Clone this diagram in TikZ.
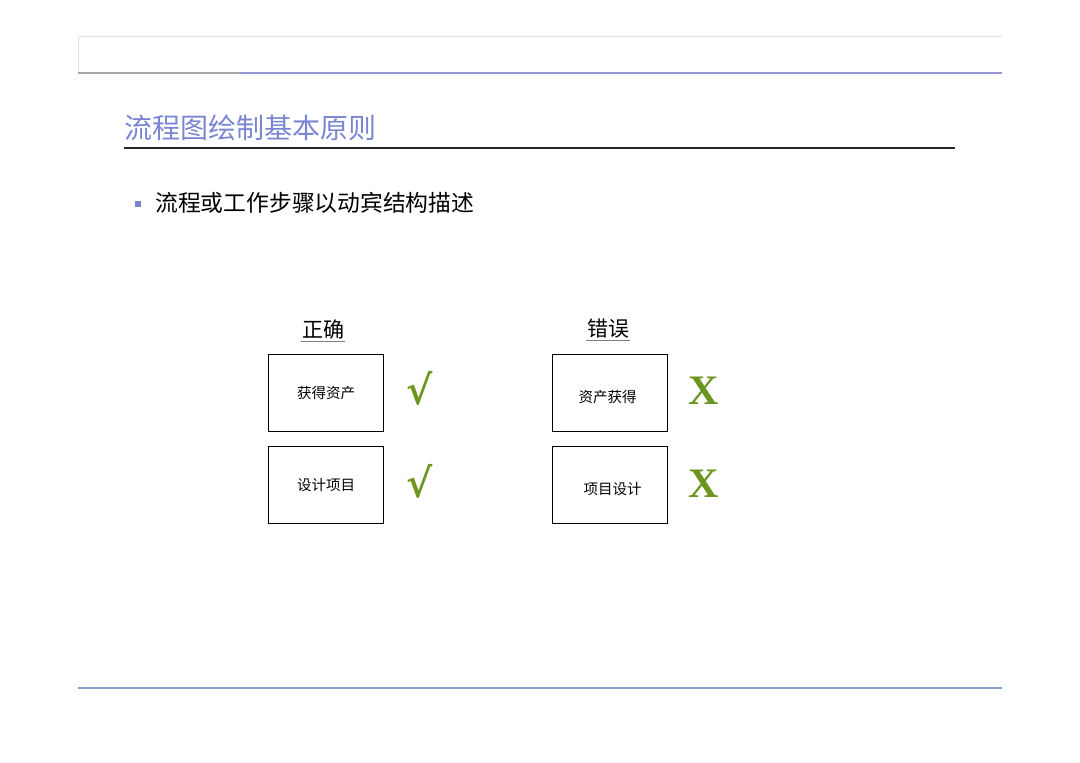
\documentclass[tikz,border=0pt]{standalone}
\usepackage{fontspec}
\setmainfont{Liberation Serif}
\newfontfamily\cjk{Noto Sans CJK SC}
\newfontfamily\symfont{DejaVu Serif}
\usepackage{xcolor}
\usepackage{tikz}
\usetikzlibrary{positioning}
\definecolor{hdrblue}{RGB}{150,152,212}
\definecolor{titleblue}{RGB}{122,134,210}
\definecolor{footblue}{RGB}{140,160,205}
\definecolor{okgreen}{RGB}{108,150,32}
\tikzset{
  card/.style={draw=black, line width=1.2pt, minimum width=115pt, minimum height=77pt,
               inner sep=0pt, text height=12pt, text depth=2pt,
               font=\cjk\fontsize{14.5}{14.5}\selectfont, anchor=north west},
  colhead/.style={font=\cjk\fontsize{21}{21}\selectfont, inner sep=1pt},
  verdict/.style={text=okgreen, inner sep=0pt},
  hline/.style={line width=1.6pt}
}
\begin{document}
\begin{tikzpicture}[x=1pt, y=-1pt]
  \useasboundingbox (0,0) rectangle (1080,763);
  % header band
  \draw[gray!25, line width=0.8pt] (1002,36) -- (78,36) -- (78,73);
  \draw[hline, gray!70] (78,73) -- (240,73);
  \draw[hline, hdrblue] (240,73) -- (1002,73);
  % title
  \node[anchor=west, text=titleblue, font=\cjk\fontsize{28}{28}\selectfont, inner sep=0pt] (title) at (124,128) {流程图绘制基本原则};
  \draw[gray!30!black, line width=1.3pt] (124,148) -- (955,148);
  % bullet
  \node[fill=titleblue, minimum size=6pt, inner sep=0pt] (dot) at (138,204) {};
  \node[anchor=west, font=\cjk\fontsize{22.8}{22.8}\selectfont, inner sep=0pt] (rule1) at (155,203) {流程或工作步骤以动宾结构描述};
  % column heads
  \node[colhead] (good) at (323,329) {正确};
  \node[colhead] (bad) at (608,329) {错误};
  \draw[gray, line width=0.8pt] ([yshift=-1pt]good.south west) -- ([yshift=-1pt]good.south east);
  \draw[gray, line width=0.8pt] ([yshift=-1pt]bad.south west) -- ([yshift=-1pt]bad.south east);
  % boxes
  \node[card] (g1) at (268,354) {获得资产};
  \node[card] (g2) at (268,446) {设计项目};
  \node[card] (b1) at (552,354) {\raisebox{-4.5pt}{资产获得}\hspace*{5pt}};
  \node[card] (b2) at (552,446) {\hspace*{5pt}\raisebox{-4.5pt}{项目设计}};
  % marks
  \node[verdict, font=\symfont\bfseries\fontsize{40}{40}\selectfont] (c1) at (420,388) {√};
  \node[verdict, font=\symfont\bfseries\fontsize{40}{40}\selectfont] (c2) at (420,481) {√};
  \node[verdict, font=\bfseries\fontsize{42}{42}\selectfont] (x1) at (704,391) {X};
  \node[verdict, font=\bfseries\fontsize{42}{42}\selectfont] (x2) at (704,484) {X};
  % footer
  \draw[hline, footblue] (78,688) -- (1002,688);
\end{tikzpicture}
\end{document}
